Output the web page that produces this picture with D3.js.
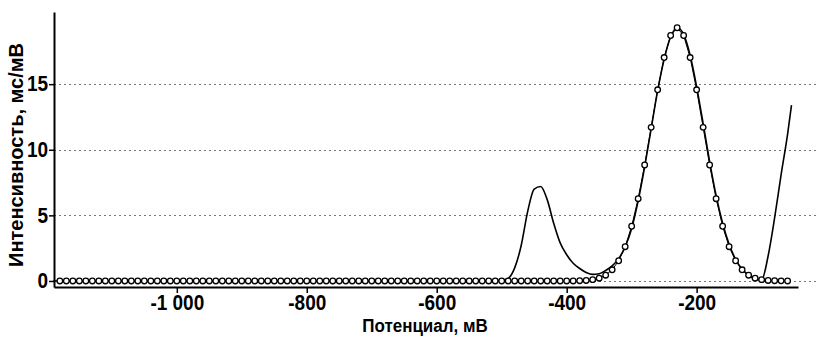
<!DOCTYPE html>
<html>
<head>
<meta charset="utf-8">
<script src="https://cdn.jsdelivr.net/npm/d3@7"></script>
<style>
  body { margin: 0; background: #fff; }
  svg { display: block; }
  .tick-label, .axis-title { font-family: "Liberation Sans", Arial, sans-serif; font-weight: bold; fill: #000; }
</style>
</head>
<body>
<div id="chart"></div>
<script>
// Fitted peak (circles), sampled every 10 mV from -1180 to -60.
const fitX = d3.range(-1180, -59, 10);
const fitY = [
  0, 0, 0, 0, 0, 0, 0, 0, 0, 0,
  0, 0, 0, 0, 0, 0, 0, 0, 0, 0,
  0, 0, 0, 0, 0, 0, 0, 0, 0, 0,
  0, 0, 0, 0, 0, 0, 0, 0, 0, 0,
  0, 0, 0, 0, 0, 0, 0, 0, 0, 0,
  0, 0, 0, 0, 0, 0, 0, 0, 0, 0,
  0, 0, 0, 0, 0, 0, 0, 0, 0, 0,
  0, 0, 0, 0, 0, 0, 0, 0, 0, 0,
  0.02, 0.04, 0.10, 0.21, 0.44, 0.85, 1.54, 2.61, 4.17, 6.27,
  8.84, 11.71, 14.57, 17.03, 18.71, 19.30, 18.71, 17.03, 14.57, 11.71,
  8.84, 6.27, 4.17, 2.61, 1.54, 0.85, 0.44, 0.21, 0.10, 0.04,
  0.02, 0.01, 0
];

// Measured curve.
const curveX = [-1190, -520, -510, -500, -490, -480, -470, -460, -450, -440,
  -430, -420, -410, -400, -390, -380, -370, -360, -350, -340,
  -330, -320, -310, -300, -290, -280, -270, -260, -250, -240,
  -230, -220, -210, -200, -190, -180, -170, -160, -150, -140,
  -130, -120, -110, -100, -90, -80, -70, -60, -54];
const curveY = [0, 0, 0.01, 0.05, 0.2, 1.0, 2.7, 5.3, 7.0, 7.2,
  6.2, 4.4, 2.9, 2.0, 1.35, 0.95, 0.65, 0.5, 0.55, 0.8,
  1.15, 1.7, 2.6, 4.0, 6.1, 8.7, 11.6, 14.5, 16.9, 18.6,
  19.3, 18.8, 17.2, 14.8, 12.0, 9.1, 6.5, 4.4, 2.8, 1.65,
  0.9, 0.45, 0.15, 0.08, 1.9, 4.8, 8.1, 11.2, 13.4];

const xTicks = [-1000, -800, -600, -400, -200];
const yTicks = [0, 5, 10, 15];

const width = 816, height = 337;
const margin = { left: 54, right: 18, top: 12, bottom: 50 };
const stretch = 1.12; // labels in the source are a bit taller than Arial

const svg = d3.select('#chart')
  .append('svg')
  .attr('width', width)
  .attr('height', height);

const x = d3.scaleLinear()
  .domain([-1189, -44])
  .range([margin.left, width - margin.right]);

const y = d3.scaleLinear()
  .domain([-0.46, 20.5])
  .range([height - margin.bottom, margin.top]);

const fmt = (v) => d3.format(',')(v).replace(',', ' ').replace('−', '-');

// Grid lines (dashed), run to the right edge.
svg.append('g')
  .selectAll('line')
  .data(yTicks)
  .join('line')
  .attr('x1', margin.left)
  .attr('x2', width)
  .attr('y1', (d) => Math.round(y(d)) + 0.5)
  .attr('y2', (d) => Math.round(y(d)) + 0.5)
  .attr('stroke', '#777')
  .attr('stroke-width', 1)
  .attr('stroke-dasharray', '2,3');

// Axes
const xAxis = svg.append('g')
  .attr('transform', `translate(0,${height - margin.bottom})`)
  .call(d3.axisBottom(x).tickValues(xTicks).tickSize(6).tickPadding(2).tickFormat(fmt).tickSizeOuter(0));

const yAxis = svg.append('g')
  .attr('transform', `translate(${margin.left},0)`)
  .call(d3.axisLeft(y).tickValues(yTicks).tickSize(5).tickPadding(1).tickFormat(fmt).tickSizeOuter(0));

[xAxis, yAxis].forEach((g) => {
  g.select('.domain').attr('stroke', '#000').attr('stroke-width', 2);
  g.selectAll('.tick line').attr('stroke', '#000').attr('stroke-width', 1.5);
  g.selectAll('.tick text')
    .classed('tick-label', true)
    .attr('font-size', null)
    .attr('font-family', null)
    .style('font-size', '19px')
    .attr('transform', `scale(1,${stretch})`);
});
xAxis.selectAll('.tick text').attr('y', 8 / stretch);

// Measured curve
const line = d3.line()
  .x((d, i) => x(curveX[i]))
  .y((d) => y(d))
  .curve(d3.curveMonotoneX);

svg.append('path')
  .datum(curveY)
  .attr('fill', 'none')
  .attr('stroke', '#000')
  .attr('stroke-width', 1.6)
  .attr('d', line);

// Fit: thin connecting line + open circles
const fitLine = d3.line()
  .x((d, i) => x(fitX[i]))
  .y((d) => y(d));

svg.append('path')
  .datum(fitY)
  .attr('fill', 'none')
  .attr('stroke', '#000')
  .attr('stroke-width', 1)
  .attr('d', fitLine);

svg.append('g')
  .selectAll('circle')
  .data(fitY)
  .join('circle')
  .attr('cx', (d, i) => x(fitX[i]))
  .attr('cy', (d) => y(d))
  .attr('r', 2.8)
  .attr('fill', '#fff')
  .attr('stroke', '#000')
  .attr('stroke-width', 1.3);

// Axis titles
svg.append('text')
  .attr('class', 'axis-title')
  .attr('transform', `translate(425,332) scale(1,${stretch})`)
  .attr('text-anchor', 'middle')
  .style('font-size', '17px')
  .text('Потенциал, мВ');

svg.append('text')
  .attr('class', 'axis-title')
  .attr('transform', 'translate(23,155) rotate(-90)')
  .attr('text-anchor', 'middle')
  .style('font-size', '20px')
  .text('Интенсивность, мс/мВ');
</script>
</body>
</html>
